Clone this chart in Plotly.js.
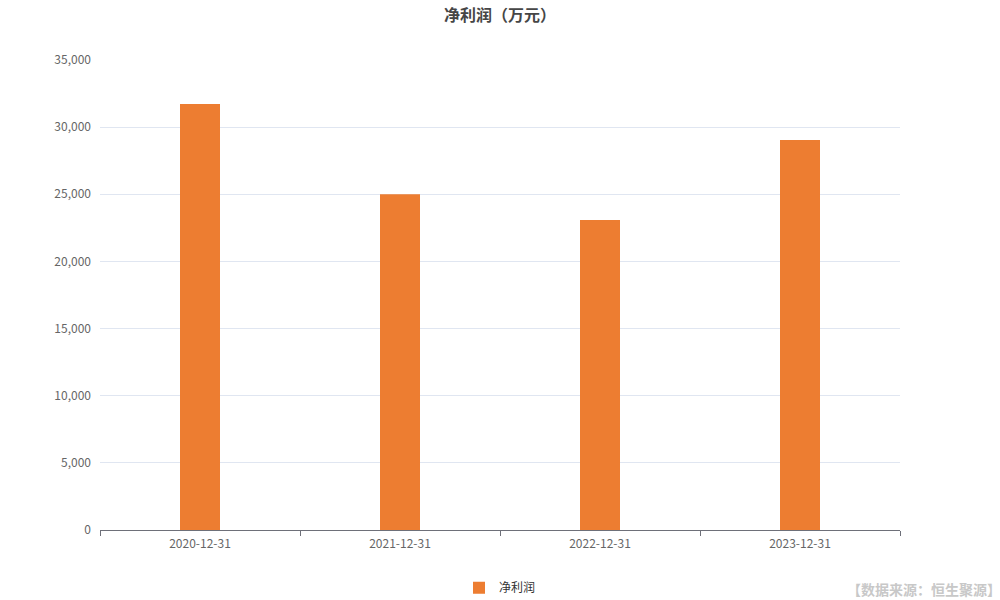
<!DOCTYPE html>
<html><head><meta charset="utf-8">
<script src="https://cdn.plot.ly/plotly-3.0.1.min.js"></script>
<style>html,body{margin:0;padding:0;background:#fff}#c{width:1000px;height:600px}</style>
</head><body><div id="c"></div>
<script>
const categories = ["2020-12-31", "2021-12-31", "2022-12-31", "2023-12-31"];
const netProfit = [31720, 25010, 23080, 29040];
const seriesName = "净利润";
const titleText = "净利润（万元）";
const sourceText = "【数据来源：恒生聚源】";

const font = '"Noto Sans CJK SC", "Noto Sans", sans-serif';
Plotly.newPlot('c', [{
  type: 'bar', x: categories, y: netProfit, name: seriesName,
  marker: {color: '#ED7D31'}, hoverinfo: 'none'
}], {
  width: 1000, height: 600,
  margin: {l: 100, r: 100, t: 60, b: 70, autoexpand: false},
  paper_bgcolor: '#fff', plot_bgcolor: '#fff',
  font: {family: font, color: '#666', size: 12},
  title: {text: titleText, x: 0.5, xanchor: 'center', y: 0.975, yanchor: 'middle',
          font: {family: font, size: 16, color: '#464646', weight: 'bold'}},
  bargap: 0.8,
  showlegend: true,
  legend: {orientation: 'h', x: 0.5, xanchor: 'center', y: -0.123, yanchor: 'middle',
           font: {size: 12, color: '#333'}},
  xaxis: {type: 'category', tickson: 'boundaries', ticks: 'outside', ticklen: 5,
          tickcolor: '#6E7079', showline: true, linecolor: '#6E7079', linewidth: 1,
          showgrid: false, ticklabelstandoff: 3,
          tickfont: {size: 12, color: '#666'}, fixedrange: true},
  yaxis: {range: [0, 35000], dtick: 5000, tickformat: ',d', showgrid: true,
          gridcolor: '#E0E6F1', zeroline: false, showline: false, ticks: '',
          ticklabelstandoff: 8,
          tickfont: {size: 12, color: '#666'}, fixedrange: true},
  annotations: [{text: sourceText, xref: 'paper', yref: 'paper', x: 1.129, y: -0.126,
    xanchor: 'right', yanchor: 'middle', showarrow: false,
    font: {family: font, size: 14, color: '#C8C8C8', weight: 'bold'}}]
}, {displayModeBar: false, staticPlot: true});
</script></body></html>
